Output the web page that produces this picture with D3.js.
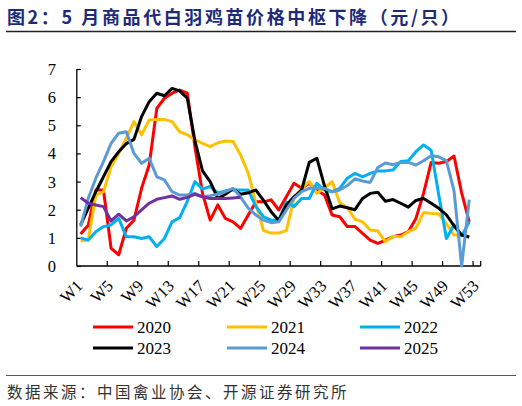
<!DOCTYPE html>
<html>
<head>
<meta charset="utf-8">
<script src="https://cdn.jsdelivr.net/npm/d3@7"></script>
<style>
  html, body { margin: 0; padding: 0; background: #fff; }
  svg { display: block; }
</style>
</head>
<body>
<svg id="chart" width="522" height="406"></svg>
<script>
// weekly price of commercial white-feather chicks (yuan / chick)
const weeks = d3.range(1, 54).map(i => "W" + i);
const tickLabels = ["W1","W5","W9","W13","W17","W21","W25","W29","W33","W37","W41","W45","W49","W53"];
const yTicks = [0, 1, 2, 3, 4, 5, 6, 7];
const years = ["2020", "2021", "2022", "2023", "2024", "2025"];

const y2020 = [1.14,1.45,2.7,2.7,0.63,0.4,1.34,1.63,2.76,3.59,5.6,5.96,6.14,6.25,6.14,4.24,2.58,1.63,2.17,1.69,1.57,1.34,1.81,2.28,2.28,2.35,1.99,2.46,2.94,2.76,2.94,2.7,2.52,1.81,1.75,1.4,1.4,1.16,0.92,0.8,0.92,1.04,1.1,1.22,1.69,2.58,3.68,3.65,3.71,3.91,2.6,1.57];
const y2021 = [0.89,0.92,2.52,2.64,3.53,4.0,4.54,5.13,4.66,5.19,5.21,5.21,5.13,4.77,4.66,4.48,4.36,4.24,4.38,4.44,4.42,3.94,3.3,2.23,1.26,1.17,1.17,1.26,2.4,2.76,3.0,2.58,2.78,3.0,2.25,2.08,1.66,1.57,1.28,1.24,0.86,1.06,1.04,1.22,1.34,1.9,1.87,1.85,1.5,1.1,1.1,1.02];
const y2022 = [1.0,0.92,1.22,1.4,1.46,1.69,1.04,1.04,0.98,1.04,0.69,0.98,1.57,1.72,2.3,3.0,2.73,2.83,2.6,2.67,2.7,2.7,2.7,2.11,1.75,1.63,1.63,2.28,2.11,2.4,2.4,2.94,2.7,2.64,2.76,3.12,3.29,3.17,3.29,3.38,3.38,3.41,3.71,3.74,4.06,4.3,4.11,2.52,0.98,1.46,1.07,1.57];
const y2023 = [1.46,2.05,2.64,3.17,3.71,4.06,4.35,4.5,5.31,5.84,6.14,6.05,6.31,6.22,5.96,4.45,3.38,3.0,2.4,2.55,2.74,2.55,2.6,2.7,2.33,1.93,1.62,2.17,2.46,2.7,3.68,3.83,2.85,2.03,2.13,2.07,2.0,2.4,2.58,2.62,2.3,2.36,2.23,2.09,2.33,2.4,2.23,2.05,1.82,1.43,1.1,1.03];
const y2024 = [1.4,2.4,3.12,3.71,4.36,4.72,4.77,4.0,3.65,3.83,3.17,3.06,2.64,2.52,2.52,2.58,2.46,2.5,2.55,2.64,2.76,2.45,2.06,1.81,1.63,1.54,1.57,1.99,2.4,2.64,2.76,2.76,2.76,2.64,2.7,2.86,3.1,3.02,2.97,3.5,3.66,3.6,3.68,3.68,3.59,3.74,3.92,3.88,3.74,2.67,0.0,2.36];
const y2025 = [2.43,2.23,2.17,2.11,1.6,1.84,1.6,1.75,1.99,2.23,2.37,2.43,2.49,2.37,2.44,2.55,2.46,2.4,2.4,2.4,2.42,2.44];

const series = [
  { name: "2020", values: y2020, color: "#FF0000" },
  { name: "2021", values: y2021, color: "#FFC000" },
  { name: "2022", values: y2022, color: "#00B0F0" },
  { name: "2023", values: y2023, color: "#000000" },
  { name: "2024", values: y2024, color: "#5B9BD5" },
  { name: "2025", values: y2025, color: "#7030A0" }
];

const svg = d3.select("#chart");
const plotLeft = 76.8, plotRight = 480.7, plotTop = 69, plotBottom = 266;

// title + rules
svg.append("text")
  .attr("x", 7).attr("y", 24)
  .style("font-family", "'Noto Sans CJK SC', sans-serif")
  .style("font-weight", "700")
  .style("font-size", "18px")
  .style("letter-spacing", "2.6px")
  .style("fill", "#1c2a78")
  .text("图2：5 月商品代白羽鸡苗价格中枢下降（元/只）");

svg.append("line")
  .attr("x1", 6).attr("x2", 516).attr("y1", 31.5).attr("y2", 31.5)
  .style("stroke", "#222").style("stroke-width", 1.3);

svg.append("line")
  .attr("x1", 6).attr("x2", 516).attr("y1", 375.5).attr("y2", 375.5)
  .style("stroke", "#555").style("stroke-width", 1);

svg.append("text")
  .attr("x", 7).attr("y", 398)
  .style("font-family", "'Noto Sans CJK SC', sans-serif")
  .style("font-size", "15.5px")
  .style("letter-spacing", "2.5px")
  .style("fill", "#333")
  .text("数据来源：中国禽业协会、开源证券研究所");

const x = d3.scalePoint()
  .domain(weeks)
  .range([plotLeft, plotRight])
  .padding(0.5);
const step = x.step();

const y = d3.scaleLinear()
  .domain([0, 7])
  .range([plotBottom, plotTop]);

// y axis
const yAxis = svg.append("g")
  .attr("transform", `translate(${plotLeft},0)`)
  .call(d3.axisRight(y).tickValues(yTicks).tickSize(4).tickFormat(""));
yAxis.select(".domain").attr("d", `M0,${plotTop}V${plotBottom}`).style("stroke", "#000").style("stroke-width", 1.3);
yAxis.selectAll(".tick line").style("stroke", "#000").style("stroke-width", 1.2);

svg.selectAll(".ylab")
  .data(yTicks)
  .enter().append("text")
  .attr("class", "ylab")
  .attr("x", 56)
  .attr("y", d => y(d))
  .attr("dy", "0.36em")
  .attr("text-anchor", "end")
  .style("font-family", "'Liberation Serif', serif")
  .style("font-size", "16.5px")
  .style("fill", "#000")
  .text(d => d);

// x axis: ticks between categories every 4 weeks
const xTickPos = d3.range(4, 53, 4).map(k => plotLeft + k * step).concat([plotRight]);
svg.append("line")
  .attr("x1", plotLeft).attr("x2", plotRight).attr("y1", plotBottom).attr("y2", plotBottom)
  .style("stroke", "#000").style("stroke-width", 1.3);
svg.selectAll(".xtick")
  .data(xTickPos)
  .enter().append("line")
  .attr("class", "xtick")
  .attr("x1", d => d).attr("x2", d => d)
  .attr("y1", plotBottom).attr("y2", plotBottom - 5)
  .style("stroke", "#000").style("stroke-width", 1.2);

svg.selectAll(".xlab")
  .data(tickLabels)
  .enter().append("text")
  .attr("class", "xlab")
  .attr("transform", d => `translate(${x(d) + 3},${plotBottom + 21}) rotate(-45)`)
  .attr("text-anchor", "end")
  .style("font-family", "'Liberation Serif', serif")
  .style("font-size", "16.5px")
  .style("fill", "#000")
  .text(d => d);

// lines
const line = d3.line()
  .x((d, i) => x(weeks[i]))
  .y(d => y(d));

svg.selectAll(".series")
  .data(series)
  .enter().append("path")
  .attr("class", "series")
  .attr("d", d => line(d.values))
  .style("fill", "none")
  .style("stroke", d => d.color)
  .style("stroke-width", 3)
  .style("stroke-linejoin", "round");

// legend
const legX = [93, 227, 360];
const legY = [327, 348];
const leg = svg.selectAll(".leg")
  .data(series)
  .enter().append("g")
  .attr("class", "leg")
  .attr("transform", (d, i) => `translate(${legX[i % 3]},${legY[Math.floor(i / 3)]})`);
leg.append("line")
  .attr("x1", 0).attr("x2", 40)
  .style("stroke", d => d.color)
  .style("stroke-width", 3);
leg.append("text")
  .attr("x", 44).attr("dy", "0.36em")
  .style("font-family", "'Liberation Serif', serif")
  .style("font-size", "17px")
  .style("fill", "#000")
  .text(d => d.name);
</script>
</body>
</html>
